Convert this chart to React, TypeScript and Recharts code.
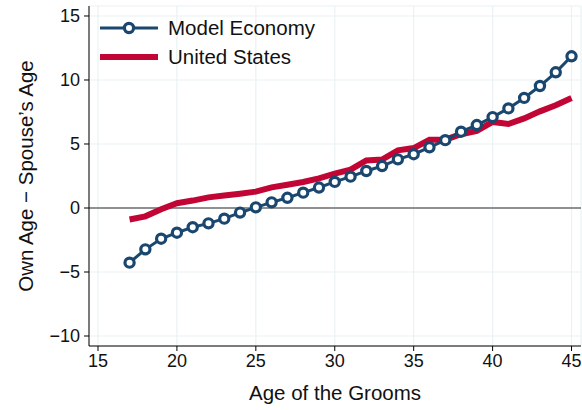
import React from "react";
import { LineChart, Line, XAxis, YAxis, CartesianGrid, ReferenceLine, Legend, Label } from "recharts";

const ages = [17, 18, 19, 20, 21, 22, 23, 24, 25, 26, 27, 28, 29, 30, 31, 32, 33, 34, 35, 36, 37, 38, 39, 40, 41, 42, 43, 44, 45];
const modelEconomy = [-4.27, -3.23, -2.4, -1.93, -1.5, -1.2, -0.83, -0.36, 0.05, 0.44, 0.8, 1.2, 1.6, 2.04, 2.45, 2.89, 3.28, 3.8, 4.2, 4.74, 5.3, 5.96, 6.48, 7.1, 7.78, 8.6, 9.53, 10.6, 11.85];
const unitedStates = [-0.9, -0.65, -0.1, 0.37, 0.58, 0.83, 0.98, 1.12, 1.28, 1.61, 1.82, 2.03, 2.32, 2.68, 3.0, 3.72, 3.78, 4.5, 4.68, 5.33, 5.34, 5.76, 6.02, 6.72, 6.56, 7.0, 7.55, 8.03, 8.6];
const xTicks = [15, 20, 25, 30, 35, 40, 45];
const yTicks = [-10, -5, 0, 5, 10, 15];

const data = ages.map((age, i) => ({ age, model: modelEconomy[i], us: unitedStates[i] }));

const NAVY = "#1a476f";
const RED = "#c10534";
const FONT = "'Liberation Sans', Arial, Helvetica, sans-serif";

const ChartLegend = () => (
  <svg width={240} height={70}>
    <line x1={2} y1={18} x2={60} y2={18} stroke={NAVY} strokeWidth={3} />
    <circle cx={31} cy={18} r={4.6} fill="#fff" stroke={NAVY} strokeWidth={3.2} />
    <text x={70} y={25} fontSize={20.5} fontFamily={FONT} fill="#111">Model Economy</text>
    <line x1={2} y1={47} x2={60} y2={47} stroke={RED} strokeWidth={6} />
    <text x={70} y={54} fontSize={20.5} fontFamily={FONT} fill="#111">United States</text>
  </svg>
);

export default function App() {
  return (
    <div style={{ position: "fixed", top: 0, left: 0, background: "#fff" }}>
      <LineChart width={582} height={410} data={data} margin={{ top: 6, right: 1, bottom: 0, left: 0 }}>
        <CartesianGrid stroke="#eaf2f3" strokeWidth={1.2} />
        <XAxis
          dataKey="age"
          type="number"
          domain={[14.43, 45.6]}
          ticks={xTicks}
          allowDataOverflow
          height={64}
          tickSize={5}
          tickMargin={3}
          stroke="#000"
          tick={{ fill: "#111", fontSize: 18, fontFamily: FONT }}
        >
          <Label value="Age of the Grooms" position="center" dy={15} fill="#111" fontSize={20.5} fontFamily={FONT} />
        </XAxis>
        <YAxis
          type="number"
          domain={[-10.78, 15.78]}
          ticks={yTicks}
          allowDataOverflow
          width={89}
          tickSize={5}
          tickMargin={4}
          stroke="#000"
          tickFormatter={(v: number) => (v < 0 ? "\u2212" + Math.abs(v) : String(v))}
          tick={{ fill: "#111", fontSize: 18, fontFamily: FONT }}
        >
          <Label value={"Own Age \u2212 Spouse\u2019s Age"} angle={-90} position="center" dx={-19} fill="#111" fontSize={20.5} fontFamily={FONT} />
        </YAxis>
        <ReferenceLine y={0} stroke="#6e6e6e" strokeWidth={1.6} />
        <Legend
          layout="horizontal"
          verticalAlign="middle"
          align="center"
          wrapperStyle={{ top: 10, left: 98, width: 240, height: 70 }}
          content={() => <ChartLegend />}
        />
        <Line type="linear" dataKey="us" name="United States" stroke={RED} strokeWidth={6} dot={false} isAnimationActive={false} />
        <Line
          type="linear"
          dataKey="model"
          name="Model Economy"
          stroke={NAVY}
          strokeWidth={3}
          dot={{ r: 4.6, fill: "#fff", stroke: NAVY, strokeWidth: 3.2 }}
          isAnimationActive={false}
        />
      </LineChart>
    </div>
  );
}
